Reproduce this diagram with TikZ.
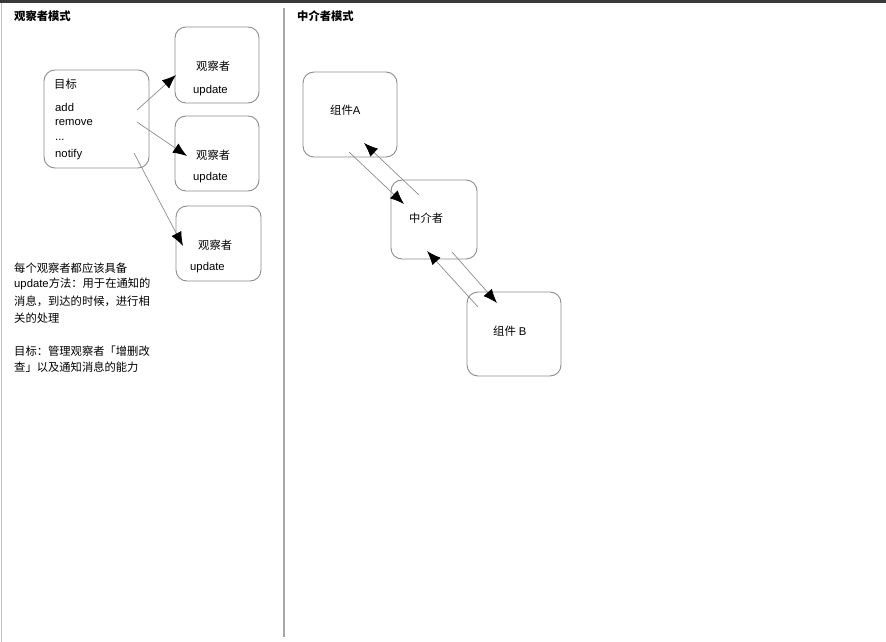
\documentclass[tikz,border=0pt]{standalone}
\usepackage{fontspec}
\setmainfont{Liberation Sans}
\newfontfamily\cjk{Noto Sans CJK SC}
\usepackage{tikz}
\usetikzlibrary{arrows.meta,shapes,positioning}

\begin{document}
\begin{tikzpicture}
        [
            x=1pt, y=-1pt,
            box/.style={draw=black!45, line width=0.9pt, rounded corners=11pt, inner sep=0pt},
            txt/.style={inner sep=0pt, anchor=west, font=\fontsize{11.3}{13}\selectfont},
            link/.style={draw=black!45, line width=0.7pt, -{Latex[length=14pt,width=11pt,color=black]}},
        ]
            \useasboundingbox (0,0) rectangle (886,642);
            \fill[black!78] (0,0) rectangle (886,3);
            \draw[black!25, line width=1pt] (1,3) -- (1,642);
            \draw[black!35, line width=1.5pt] (284,8) -- (284,637);

            % observer pattern
            \node[txt] (title1) at (14,16) {\cjk\bfseries 观察者模式};
            \node[box, minimum width=105pt, minimum height=98pt] (target) at (96.5,119) {};
            \node[txt] (tname) at (54,84) {\cjk 目标};
            \node[txt] (add) at (55,107) {add};
            \node[txt] (remove) at (55,123) {remove};
            \node[txt] (dots) at (55,140) {...};
            \node[txt] (notify) at (55,155) {notify};

            \node[box, minimum width=84pt, minimum height=76pt] (O1) at (217,65) {};
            \node[box, minimum width=84pt, minimum height=75pt] (O2) at (217,153.5) {};
            \node[box, minimum width=85pt, minimum height=75pt] (O3) at (218.5,243.5) {};
            \node[txt] (O1name) at (196,66) {\cjk 观察者};
            \node[txt] (O1upd) at (193,91) {update};
            \node[txt] (O2name) at (196,155) {\cjk 观察者};
            \node[txt] (O2upd) at (193,178) {update};
            \node[txt] (O3name) at (198,245) {\cjk 观察者};
            \node[txt] (O3upd) at (190,268) {update};

            \coordinate (t1) at (137,110);
            \coordinate (t2) at (137,122);
            \coordinate (t3) at (134,153);
            \coordinate (h1) at (176,75);
            \coordinate (h2) at (187,156);
            \coordinate (h3) at (183,246);
            \draw[link] (t1) -- (h1);
            \draw[link] (t2) -- (h2);
            \draw[link] (t3) -- (h3);

            \node[txt] (note1) at (14,268) {\cjk 每个观察者都应该具备};
            \node[txt] (note2) at (14,284) {update{\cjk 方法：用于在通知的}};
            \node[txt] (note3) at (14,301) {\cjk 消息，到达的时候，进行相};
            \node[txt] (note4) at (14,318) {\cjk 关的处理};
            \node[txt] (note5) at (14,351) {\cjk 目标：管理观察者「增删改};
            \node[txt] (note6) at (14,367) {\cjk 查」以及通知消息的能力};

            % mediator pattern
            \node[txt] (title2) at (297,16) {\cjk\bfseries 中介者模式};
            \node[box, minimum width=94pt, minimum height=85pt] (A) at (350,114.5) {};
            \node[box, minimum width=86pt, minimum height=79pt] (M) at (434,219.5) {};
            \node[box, minimum width=94pt, minimum height=84pt] (B) at (514,334) {};
            \node[txt] (Aname) at (330,110) {{\cjk 组件}A};
            \node[txt] (Mname) at (409,218) {\cjk 中介者};
            \node[txt] (Bname) at (493,331) {{\cjk 组件} B};

            \coordinate (a1) at (349,152);
            \coordinate (a2) at (404,204);
            \coordinate (m1) at (419,195);
            \coordinate (m2) at (364,143);
            \coordinate (m3) at (452,252);
            \coordinate (b1) at (497,303);
            \coordinate (b2) at (478,307);
            \coordinate (m4) at (427,251);
            \draw[link] (a1) -- (a2);
            \draw[link] (m1) -- (m2);
            \draw[link] (m3) -- (b1);
            \draw[link] (b2) -- (m4);
        \end{tikzpicture}
\end{document}
